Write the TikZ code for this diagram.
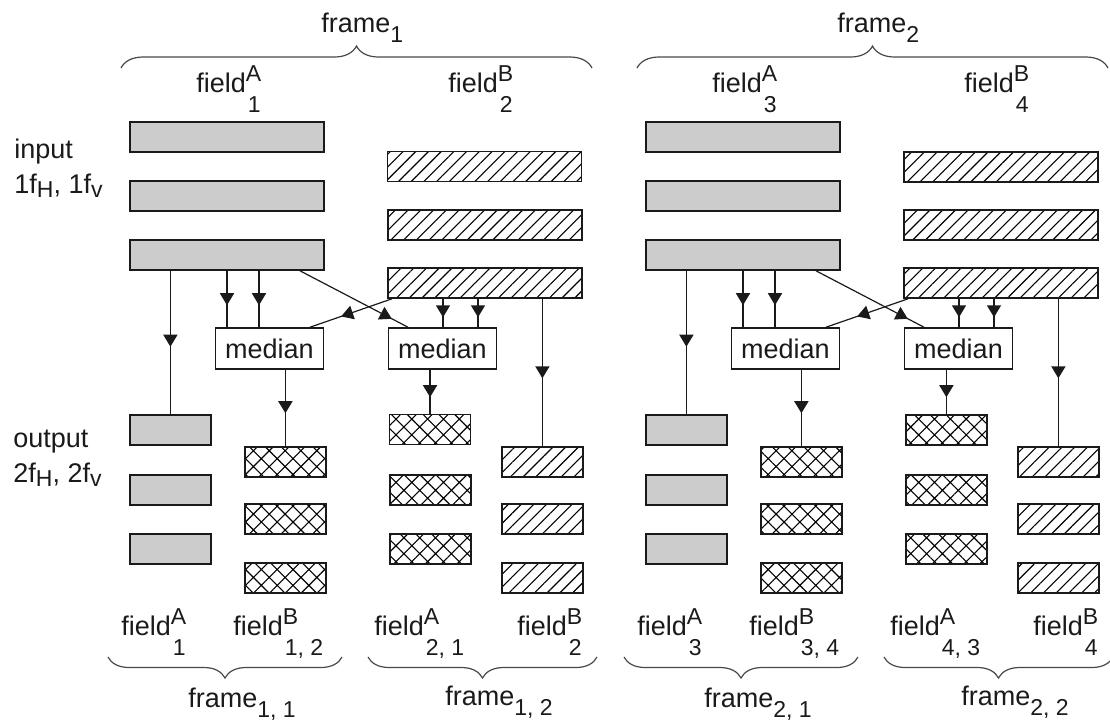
\documentclass[tikz,border=0pt]{standalone}
\usepackage{fontspec}
\setmainfont{Liberation Sans}
\usepackage{tikz}
\usetikzlibrary{arrows.meta,decorations.markings,decorations.pathreplacing,patterns.meta}
\definecolor{BarGray}{HTML}{CCCCCC}
\definecolor{InkDark}{HTML}{1A1A1A}
\newcommand{\scrfont}{\fontsize{11.5}{12}\selectfont}
\newcommand{\lsub}[1]{\raisebox{-2pt}{\scrfont #1}}
\newcommand{\fsub}[1]{\raisebox{-5pt}{\scrfont #1}}
\newcommand{\fld}[2]{field\rlap{\raisebox{5.5pt}{\scrfont #1}}\raisebox{-10pt}{\scrfont\hspace{1pt}#2}}
\tikzset{
  barnode/.style={draw=InkDark,line width=0.9pt,inner sep=0pt,anchor=north west,minimum height=15pt},
  inbar/.style={barnode,minimum width=97pt},
  outbar/.style={barnode,minimum width=40.5pt},
  graybar/.style={fill=BarGray},
  hatchbar/.style={pattern={Lines[angle=45,distance=4.5pt,line width=0.55pt]}},
  crossbar/.style={pattern={Hatch[angle=45,distance=5.6pt,line width=0.55pt]}},
  medianbox/.style={draw=InkDark,line width=0.8pt,minimum width=54pt,minimum height=20.5pt,inner sep=0pt},
  link/.style={draw=InkDark,line width=0.85pt},
  crosslink/.style={draw=InkDark,line width=0.6pt},
  midtip/.style={postaction={decorate},decoration={markings,mark=at position #1 with {\arrow{Triangle[length=6pt,width=7pt]}}}},
  framebrace/.style={draw=InkDark!80,line width=0.6pt,decorate,decoration={brace,amplitude=#1}},
  lbl/.style={anchor=base west,inner sep=0pt}
}

\begin{document}
\begin{tikzpicture}[x=0.5pt,y=-0.5pt,font=\fontsize{13.5}{17.5}\selectfont,text=InkDark]
\useasboundingbox (0,0) rectangle (1110,720);
\node[anchor=north west,align=left,inner sep=0pt] (inlbl) at (14,139) {input\\1f\lsub{H}, 1f\lsub{v}};
\node[anchor=north west,align=left,inner sep=0pt] (outlbl) at (13,430) {output\\2f\lsub{H}, 2f\lsub{v}};
\foreach \n/\dx/\a/\b/\ab/\ba in {1/0/1/2/{1, 2}/{2, 1},2/516/3/4/{3, 4}/{4, 3}}{
\begin{scope}[xshift=\dx*0.5pt]
% input fields
\foreach \k/\y in {1/121,2/180,3/239} \node[inbar,graybar] (g\n\k) at (129,\y) {};
\foreach \k/\y in {1/151,2/209,3/267} \node[inbar,hatchbar] (h\n\k) at (387,\y) {};
% medians
\node[medianbox] (ma\n) at (269.5,348.5) {median};
\node[medianbox] (mb\n) at (442.5,348.5) {median};
% output fields
\foreach \k/\y in {1/414,2/474,3/533} {
  \node[outbar,graybar] (oa\n\k) at (129,\y) {};
  \node[outbar,crossbar] (oc\n\k) at (389,\y) {};
}
\foreach \k/\y in {1/446,2/503,3/562} {
  \node[outbar,crossbar] (ob\n\k) at (244,\y) {};
  \node[outbar,hatchbar] (od\n\k) at (501,\y) {};
}
% connectors
\draw[link,midtip=0.53] (g\n3.south -| oa\n1.north) -- (oa\n1.north);
\draw[link,midtip=0.61] (g\n3.south -| 227,0) -- (ma\n.north -| 227,0);
\draw[link,midtip=0.61] (g\n3.south -| 259,0) -- (ma\n.north -| 259,0);
\draw[link,midtip=0.65] (h\n3.south -| 443,0) -- (mb\n.north -| 443,0);
\draw[link,midtip=0.65] (h\n3.south -| 478,0) -- (mb\n.north -| 478,0);
\draw[link,midtip=0.54] (h\n3.south -| od\n1.north) -- (od\n1.north);
\draw[link,midtip=0.57] (ma\n.south -| ob\n1.north) -- (ob\n1.north);
\draw[link,midtip=0.62] (mb\n.south -| oc\n1.north) -- (oc\n1.north);
\draw[crosslink,midtip=0.85] (g\n3.south -| 300,0) -- (mb\n.north -| 408,0);
\draw[crosslink,midtip=0.62] (h\n3.south -| 392,0) -- (ma\n.north -| 310,0);
% braces and labels
\draw[framebrace=11pt] (121,68) -- (592,68);
\draw[framebrace=10.5pt] (342,657) -- (108,657);
\draw[framebrace=10.5pt] (597,657) -- (368,657);
\node[lbl] (ft\n) at (321,32) {frame\fsub{\n}};
\node[lbl] (tfa\n) at (196,92) {\fld{A}{\a}};
\node[lbl] (tfb\n) at (448,92) {\fld{B}{\b}};
\node[lbl] (bfa\n) at (121,635) {\fld{A}{\a}};
\node[lbl] (bfb\n) at (233,635) {\fld{B}{\ab}};
\node[lbl] (bfc\n) at (374,635) {\fld{A}{\ba}};
\node[lbl] (bfd\n) at (517,635) {\fld{B}{\b}};
\node[lbl] (fl\n) at (188,707) {frame\fsub{\n, 1}};
\node[lbl] (fr\n) at (445,705) {frame\fsub{\n, 2}};
\end{scope}
}
\end{tikzpicture}
\end{document}
